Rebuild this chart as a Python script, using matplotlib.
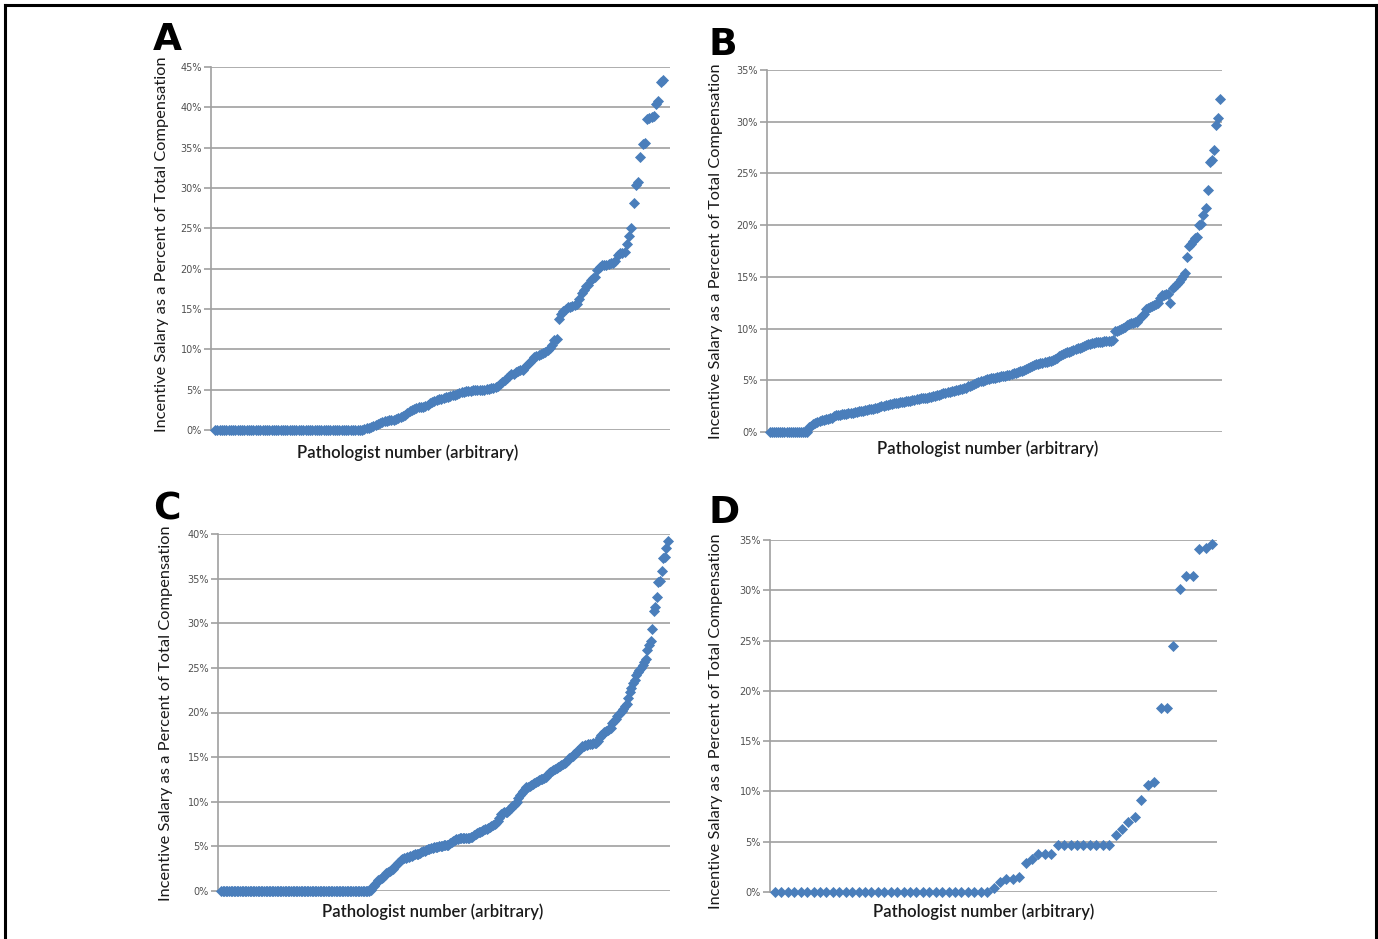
import matplotlib
matplotlib.use("Agg")
import matplotlib.pyplot as plt
from matplotlib.ticker import FuncFormatter

# ---------------- data (percent of total compensation) ----------------
a_zero_count = 66
a_values = [
    0.1, 0.2, 0.3, 0.4, 0.5, 0.6, 0.7, 0.9, 1.0, 1.1,
    1.1, 1.2, 1.3, 1.3, 1.4, 1.5, 1.6, 1.7, 1.9, 2.1,
    2.3, 2.5, 2.6, 2.7, 2.8, 2.8, 2.9, 3.0, 3.1, 3.3,
    3.5, 3.6, 3.7, 3.8, 3.9, 4.0, 4.1, 4.1, 4.2, 4.3,
    4.4, 4.5, 4.6, 4.7, 4.7, 4.8, 4.8, 4.8, 4.9, 4.9,
    4.9, 5.0, 5.0, 5.0, 5.1, 5.1, 5.2, 5.2, 5.3, 5.5,
    5.7, 6.0, 6.2, 6.5, 6.7, 6.9, 7.0, 7.2, 7.3, 7.4,
    7.5, 7.8, 8.1, 8.4, 8.7, 9.0, 9.2, 9.3, 9.4, 9.5,
    9.7, 9.9, 10.2, 10.5, 11.1, 11.3, 13.7, 14.4, 14.8, 15.0,
    15.2, 15.3, 15.4, 15.5, 15.6, 16.3, 17.0, 17.4, 17.8, 18.0,
    18.6, 18.9, 19.0, 19.8, 20.2, 20.4, 20.5, 20.5, 20.6, 20.7,
    20.7, 20.9, 21.7, 21.9, 22.0, 22.1, 23.1, 24.0, 25.1, 28.2,
    30.4, 30.8, 33.9, 35.4, 35.6, 38.5, 38.7, 38.8, 38.9, 40.4,
    40.8, 43.1, 43.4,
]

b_zero_count = 19
b_values = [
    0.5, 0.6, 0.8, 0.9, 1.0, 1.1, 1.2, 1.2, 1.3, 1.3,
    1.4, 1.4, 1.5, 1.6, 1.6, 1.6, 1.7, 1.7, 1.7, 1.8,
    1.8, 1.8, 1.9, 1.9, 2.0, 2.0, 2.0, 2.1, 2.1, 2.2,
    2.2, 2.2, 2.3, 2.3, 2.4, 2.5, 2.5, 2.6, 2.6, 2.7,
    2.7, 2.8, 2.8, 2.8, 2.9, 2.9, 2.9, 3.0, 3.0, 3.0,
    3.1, 3.1, 3.2, 3.2, 3.3, 3.3, 3.3, 3.3, 3.4, 3.4,
    3.5, 3.5, 3.6, 3.6, 3.7, 3.8, 3.8, 3.9, 3.9, 4.0,
    4.0, 4.1, 4.1, 4.2, 4.2, 4.3, 4.3, 4.4, 4.4, 4.5,
    4.6, 4.7, 4.8, 4.9, 4.9, 5.0, 5.1, 5.1, 5.2, 5.2,
    5.2, 5.3, 5.3, 5.4, 5.4, 5.4, 5.5, 5.5, 5.6, 5.7,
    5.7, 5.8, 5.9, 5.9, 6.0, 6.1, 6.2, 6.3, 6.4, 6.5,
    6.6, 6.6, 6.7, 6.7, 6.8, 6.8, 6.9, 6.9, 7.0, 7.1,
    7.2, 7.3, 7.4, 7.5, 7.6, 7.7, 7.7, 7.8, 7.9, 8.0,
    8.1, 8.1, 8.2, 8.3, 8.4, 8.5, 8.5, 8.6, 8.6, 8.7,
    8.7, 8.7, 8.7, 8.8, 8.8, 8.8, 8.8, 8.9, 9.8, 9.8,
    9.9, 10.0, 10.1, 10.2, 10.3, 10.4, 10.5, 10.5, 10.6, 10.6,
    10.9, 11.2, 11.4, 11.9, 12.0, 12.1, 12.2, 12.3, 12.4, 12.5,
    13.0, 13.2, 13.2, 13.3, 13.3, 12.5, 13.9, 14.1, 14.3, 14.5,
    14.8, 15.1, 15.4, 16.9, 18.0, 18.2, 18.5, 18.8, 18.9, 20.0,
    20.1, 21.0, 21.7, 23.4, 26.1, 26.3, 27.3, 29.7, 30.4, 32.2,
]

c_zero_count = 94
c_values = [
    0.1, 0.4, 0.6, 0.8, 1.0, 1.2, 1.3, 1.5, 1.6, 1.8,
    2.0, 2.1, 2.2, 2.4, 2.5, 2.7, 2.9, 3.1, 3.3, 3.5,
    3.6, 3.7, 3.7, 3.8, 3.8, 3.9, 3.9, 4.0, 4.1, 4.1,
    4.2, 4.3, 4.4, 4.5, 4.5, 4.6, 4.7, 4.7, 4.8, 4.8,
    4.9, 4.9, 4.9, 5.0, 5.0, 5.0, 5.1, 5.1, 5.1, 5.2,
    5.4, 5.5, 5.6, 5.7, 5.8, 5.8, 5.9, 5.9, 5.9, 5.9,
    5.9, 5.9, 5.9, 6.0, 6.1, 6.3, 6.4, 6.5, 6.6, 6.6,
    6.7, 6.8, 6.9, 7.0, 7.1, 7.2, 7.3, 7.4, 7.5, 7.6,
    7.8, 8.2, 8.6, 8.7, 8.8, 8.9, 8.9, 9.1, 9.3, 9.5,
    9.6, 9.8, 10.0, 10.4, 10.8, 11.0, 11.2, 11.4, 11.6, 11.7,
    11.8, 11.9, 12.0, 12.1, 12.2, 12.3, 12.4, 12.5, 12.6, 12.7,
    12.8, 13.0, 13.2, 13.3, 13.4, 13.6, 13.7, 13.8, 13.9, 14.0,
    14.1, 14.2, 14.3, 14.5, 14.7, 14.9, 15.0, 15.1, 15.3, 15.5,
    15.7, 15.8, 16.0, 16.2, 16.3, 16.4, 16.4, 16.5, 16.5, 16.5,
    16.6, 16.6, 16.6, 16.8, 17.2, 17.5, 17.6, 17.8, 17.9, 18.0,
    18.1, 18.3, 18.8, 19.1, 19.3, 19.6, 19.8, 20.0, 20.2, 20.4,
    20.7, 21.0, 21.6, 22.3, 22.8, 23.3, 23.6, 24.2, 24.5, 24.8,
    25.0, 25.3, 25.7, 26.0, 27.0, 27.6, 28.0, 29.4, 31.4, 31.8,
    32.9, 34.6, 34.7, 35.8, 37.3, 37.4, 38.4, 39.2,
]

d_zero_count = 34
d_values = [
    0.4, 1.0, 1.3, 1.3, 1.5, 2.9, 3.3, 3.8, 3.8, 3.8,
    4.7, 4.7, 4.7, 4.7, 4.7, 4.7, 4.7, 4.7, 4.7,
    5.7, 6.3, 7.0, 7.5, 9.1, 10.6, 10.9, 18.3, 18.3, 24.5,
    30.1, 31.4, 31.4, 34.1, 34.2, 34.6,
]

panel_letters = ["A", "B", "C", "D"]
y_maxima = [45, 35, 40, 35]
x_title = "Pathologist number (arbitrary)"
y_title = "Incentive Salary as a Percent of Total Compensation"

# ---------------- layout (pixels) ----------------
W, H = 1378, 939
fig = plt.figure(figsize=(W / 100, H / 100), dpi=100)
fig.patch.set_facecolor("white")

panels = [
    # axes left, right, top, bottom, first point px, last point px
    dict(zeros=a_zero_count, vals=a_values, box=(211, 670, 67, 430), pts=(215, 663),
         letter_xy=(153, 50), ylab=(162, 244), xlab_xy=(408, 453)),
    dict(zeros=b_zero_count, vals=b_values, box=(767, 1222, 70, 432), pts=(770, 1220),
         letter_xy=(708, 55), ylab=(716, 251), xlab_xy=(988, 449)),
    dict(zeros=c_zero_count, vals=c_values, box=(218, 670, 534, 891), pts=(221, 668),
         letter_xy=(153, 519), ylab=(166, 713), xlab_xy=(433, 912)),
    dict(zeros=d_zero_count, vals=d_values, box=(770, 1217, 540, 892), pts=(775, 1212),
         letter_xy=(708, 523), ylab=(716, 721), xlab_xy=(984, 912)),
]

blue = "#4A7EBB"
grid_c = "#A0A0A0"
label_font = "Lato"

for p, letter, ymax in zip(panels, panel_letters, y_maxima):
    l, r, t, b = p["box"]
    ax = fig.add_axes([l / W, 1 - b / H, (r - l) / W, (b - t) / H])
    yvals = [0.0] * p["zeros"] + list(p["vals"])
    n = len(yvals)
    xs = list(range(n))
    p0, p1 = p["pts"]
    rng = (n - 1) * (r - l) / (p1 - p0)
    xmin = -(p0 - l) / (r - l) * rng
    ax.set_xlim(xmin, xmin + rng)
    ax.set_ylim(0, ymax)
    ax.scatter(xs, yvals, marker="D", s=32, color=blue, linewidths=0,
               zorder=3, clip_on=False)
    ax.set_yticks(range(0, ymax + 1, 5))
    ax.yaxis.set_major_formatter(FuncFormatter(lambda v, pos: f"{int(v)}%"))
    ax.set_xticks([])
    ax.grid(axis="y", color=grid_c, linewidth=1.2)
    ax.set_axisbelow(True)
    for s in ["top", "right", "bottom"]:
        ax.spines[s].set_visible(False)
    ax.spines["left"].set_color(grid_c)
    ax.spines["left"].set_linewidth(1.2)
    ax.tick_params(axis="y", length=5, width=1.2, color=grid_c, labelsize=7,
                   labelcolor="#505050", pad=1.5)
    for lab in ax.get_yticklabels():
        lab.set_fontfamily("DejaVu Sans")

    lx, ly = p["letter_xy"]
    fig.text(lx / W, 1 - ly / H, letter, fontsize=27, fontweight="bold",
             family="DejaVu Sans", ha="left", va="baseline")
    yx, yy = p["ylab"]
    fig.text(yx / W, 1 - yy / H, y_title, rotation=90,
             fontsize=11.8, family=label_font, ha="center", va="center",
             color="#1a1a1a")
    xx, xy = p["xlab_xy"]
    fig.text(xx / W, 1 - xy / H, x_title, fontsize=12, family=label_font,
             ha="center", va="center", color="#1a1a1a", fontweight="semibold")

# outer frame (top, left, right)
frame = dict(color="black", linewidth=2.2, transform=fig.transFigure)
fig.add_artist(plt.Line2D([5 / W, 1376 / W], [1 - 5 / H, 1 - 5 / H], **frame))
fig.add_artist(plt.Line2D([5 / W, 5 / W], [1 - 5 / H, 0], **frame))
fig.add_artist(plt.Line2D([1376 / W, 1376 / W], [1 - 5 / H, 0], **frame))

fig.savefig("out.png", dpi=100, facecolor="white")
